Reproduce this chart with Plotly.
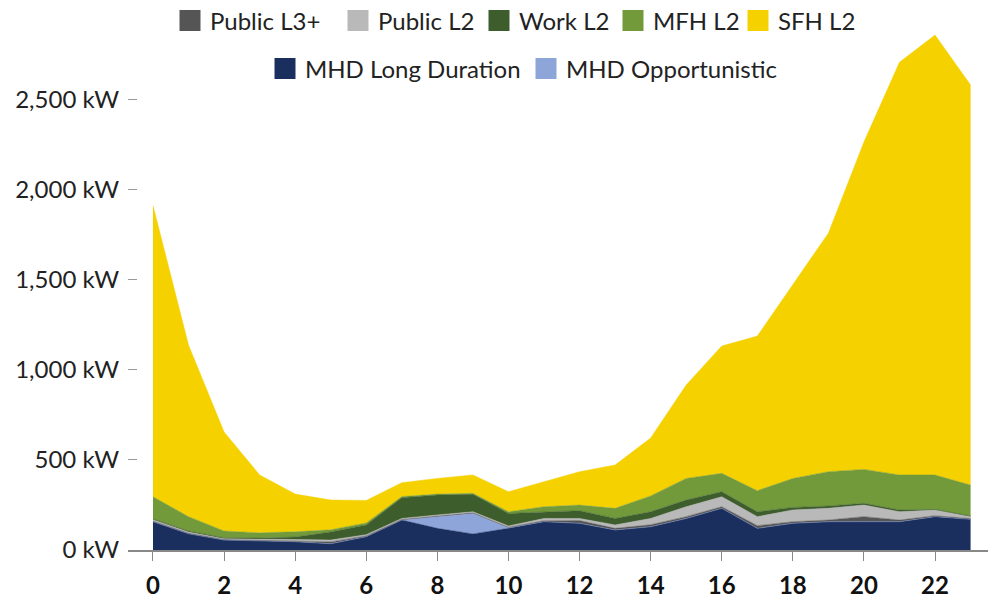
import plotly.graph_objects as go

hours = list(range(24))

mhd_long = [157, 90, 55, 52, 46, 35, 74, 166, 120, 89, 120, 157, 148, 111, 129, 175, 231, 120, 148, 157, 157, 157, 185, 170]
mhd_opp = [0, 0, 0, 0, 0, 0, 0, 0, 65, 114, 3, 0, 0, 0, 0, 0, 0, 0, 0, 0, 0, 0, 0, 0]
public_l3 = [3, 3, 3, 3, 6, 10, 4, 3, 3, 3, 3, 5, 15, 9, 11, 10, 9, 15, 9, 9, 28, 9, 5, 4]
public_l2 = [8, 7, 5, 5, 8, 10, 7, 6, 6, 6, 7, 13, 12, 19, 35, 55, 55, 50, 65, 65, 64, 46, 32, 11]
work_l2 = [4, 5, 5, 6, 12, 45, 54, 115, 111, 97, 70, 37, 43, 36, 37, 37, 28, 27, 14, 13, 10, 10, 3, 4]
mfh_l2 = [123, 80, 37, 29, 29, 12, 11, 6, 5, 5, 9, 28, 31, 56, 88, 120, 102, 117, 161, 190, 188, 194, 191, 171]
sfh_l2 = [1615, 951, 549, 321, 209, 165, 125, 77, 87, 102, 111, 139, 185, 240, 321, 518, 706, 857, 1072, 1323, 1815, 2289, 2439, 2218]

x_ticks = list(range(0, 23, 2))
y_ticks = [0, 500, 1000, 1500, 2000, 2500]
y_tick_labels = ["0 kW", "500 kW", "1,000 kW", "1,500 kW", "2,000 kW", "2,500 kW"]

series = [
    ("MHD Long Duration", mhd_long, "#1b2f5f"),
    ("MHD Opportunistic", mhd_opp, "#8ea5da"),
    ("Public L3+", public_l3, "#555555"),
    ("Public L2", public_l2, "#b9b9b9"),
    ("Work L2", work_l2, "#3e5d2c"),
    ("MFH L2", mfh_l2, "#739a3a"),
    ("SFH L2", sfh_l2, "#f5d100"),
]

# legend placement (symbol centre in px, row centre in px)
legend_pos = {
    "Public L3+": (190, 21), "Public L2": (358, 21), "Work L2": (499, 21),
    "MFH L2": (633, 21), "SFH L2": (758, 21),
    "MHD Long Duration": (285, 69), "MHD Opportunistic": (546, 69),
}

FONT = "Lato"
L, R, T, B = 128, 10, 27, 50
PW, PH = 998 - L - R, 600 - T - B

fig = go.Figure()
for name, vals, color in series:
    fig.add_trace(go.Scatter(
        x=hours, y=vals, name=name, mode="lines", stackgroup="one",
        line=dict(width=0.5, color=color), fillcolor=color,
        showlegend=False, hoverinfo="x+y+name",
    ))

legends = {}
for i, (name, vals, color) in enumerate(series):
    key = "legend" if i == 0 else f"legend{i + 1}"
    cx, cy = legend_pos[name]
    fig.add_trace(go.Scatter(
        x=[None], y=[None], name=name, mode="markers",
        marker=dict(symbol="square", size=16, color=color, line=dict(width=5, color=color)),
        showlegend=True, legend=key,
    ))
    legends[key] = dict(
        orientation="h", x=(cx - 20 - L) / PW, xanchor="left",
        y=(600 - B - cy) / PH, yanchor="middle",
        bgcolor="rgba(0,0,0,0)", borderwidth=0,
        font=dict(family=FONT, size=24, color="#222222"),
        itemclick=False, itemdoubleclick=False,
    )

fig.update_layout(
    width=998, height=600,
    margin=dict(l=L, r=R, t=T, b=B, autoexpand=False),
    paper_bgcolor="white", plot_bgcolor="white",
    font=dict(family=FONT, size=24, color="#222222"),
    xaxis=dict(range=[-0.703, 23.49], tickvals=x_ticks, ticks="outside", ticklen=9,
               tickcolor="#888888", showline=True, linecolor="#888888", linewidth=1.5,
               showgrid=False, zeroline=False, ticklabelstandoff=4,
               tickfont=dict(family=FONT, size=24, color="#111111", weight="bold")),
    yaxis=dict(range=[0, 2900], tickvals=y_ticks, ticktext=y_tick_labels,
               ticks="inside", ticklen=9, tickcolor="#999999",
               showline=False, showgrid=False, zeroline=False, ticklabelstandoff=8,
               tickfont=dict(family=FONT, size=24, color="#222222")),
    **legends,
)

fig.write_html("out.html", config={"displayModeBar": False},
               post_script="document.body.style.margin='0';")
